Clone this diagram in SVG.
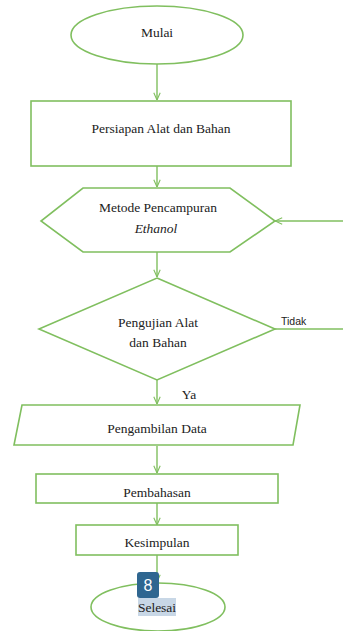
<svg xmlns="http://www.w3.org/2000/svg" width="343" height="631" viewBox="0 0 343 631">
<defs>
<style>
.s{fill:#fff;stroke:#80bf5f;stroke-width:1.6}
.c{fill:none;stroke:#80bf5f;stroke-width:1.4}
.t{font-size:13.5px;fill:#222;text-anchor:middle}
.l{font-size:10.5px;fill:#222}
</style>
<marker id="a" viewBox="0 0 10 10" refX="10" refY="5" markerWidth="8" markerHeight="8" orient="auto" markerUnits="userSpaceOnUse">
<path d="M1,1 L10,5 L1,9" fill="none" stroke="#80bf5f" stroke-width="1.4"/>
</marker>
</defs>
<rect width="343" height="631" fill="#fff"/>
<g font-family="'Liberation Serif', 'Times New Roman', serif">
<g id="connectors">
<line class="c" x1="157" y1="64" x2="157" y2="100" marker-end="url(#a)"/>
<line class="c" x1="157" y1="166" x2="157" y2="187" marker-end="url(#a)"/>
<line class="c" x1="157" y1="252" x2="157" y2="277" marker-end="url(#a)"/>
<line class="c" x1="157" y1="380" x2="157" y2="404" marker-end="url(#a)"/>
<line class="c" x1="157" y1="446" x2="157" y2="473" marker-end="url(#a)"/>
<line class="c" x1="157" y1="503" x2="157" y2="525" marker-end="url(#a)"/>
<line class="c" x1="157" y1="555" x2="157" y2="582" marker-end="url(#a)"/>
<line class="c" x1="343" y1="221" x2="275" y2="221" marker-end="url(#a)"/>
<line class="c" x1="275" y1="329" x2="343" y2="329"/>
<text class="l" x="281" y="325" font-family="'Liberation Sans', Arial, sans-serif">Tidak</text>
<text class="t" x="189" y="399">Ya</text>
</g>
<g id="mulai">
<ellipse class="s" cx="157" cy="35" rx="86" ry="29"/>
<text class="t" x="157" y="37">Mulai</text>
</g>
<g id="persiapan">
<rect class="s" x="31" y="101" width="260" height="65"/>
<text class="t" x="161" y="133">Persiapan Alat dan Bahan</text>
</g>
<g id="metode">
<polygon class="s" points="83,188 230,188 275,221 230,252 83,252 41,221"/>
<text class="t" x="158" y="212">Metode Pencampuran</text>
<text class="t" x="156" y="233" font-style="italic">Ethanol</text>
</g>
<g id="pengujian">
<polygon class="s" points="157,278 275,329 157,380 39,329"/>
<text class="t" x="158" y="327">Pengujian Alat</text>
<text class="t" x="158" y="347">dan Bahan</text>
</g>
<g id="pengambilan">
<polygon class="s" points="22,405 300,405 293,445 14,445"/>
<text class="t" x="157" y="433">Pengambilan Data</text>
</g>
<g id="pembahasan">
<rect class="s" x="36" y="474" width="242" height="29"/>
<text class="t" x="157" y="497">Pembahasan</text>
</g>
<g id="kesimpulan">
<rect class="s" x="76" y="525" width="162" height="30"/>
<text class="t" x="157" y="547">Kesimpulan</text>
</g>
<g id="selesai">
<ellipse class="s" cx="158" cy="607" rx="67" ry="24"/>
<rect x="138" y="598" width="38" height="18" fill="#c8d7e6"/>
<text class="t" x="157" y="612">Selesai</text>
</g>
<g id="badge">
<rect x="137" y="572" width="22" height="26" rx="3" fill="#2f6690"/>
<text x="148" y="591" font-family="'Liberation Sans', Arial, sans-serif" font-size="16" fill="#fff" text-anchor="middle">8</text>
</g>
</g>
</svg>
